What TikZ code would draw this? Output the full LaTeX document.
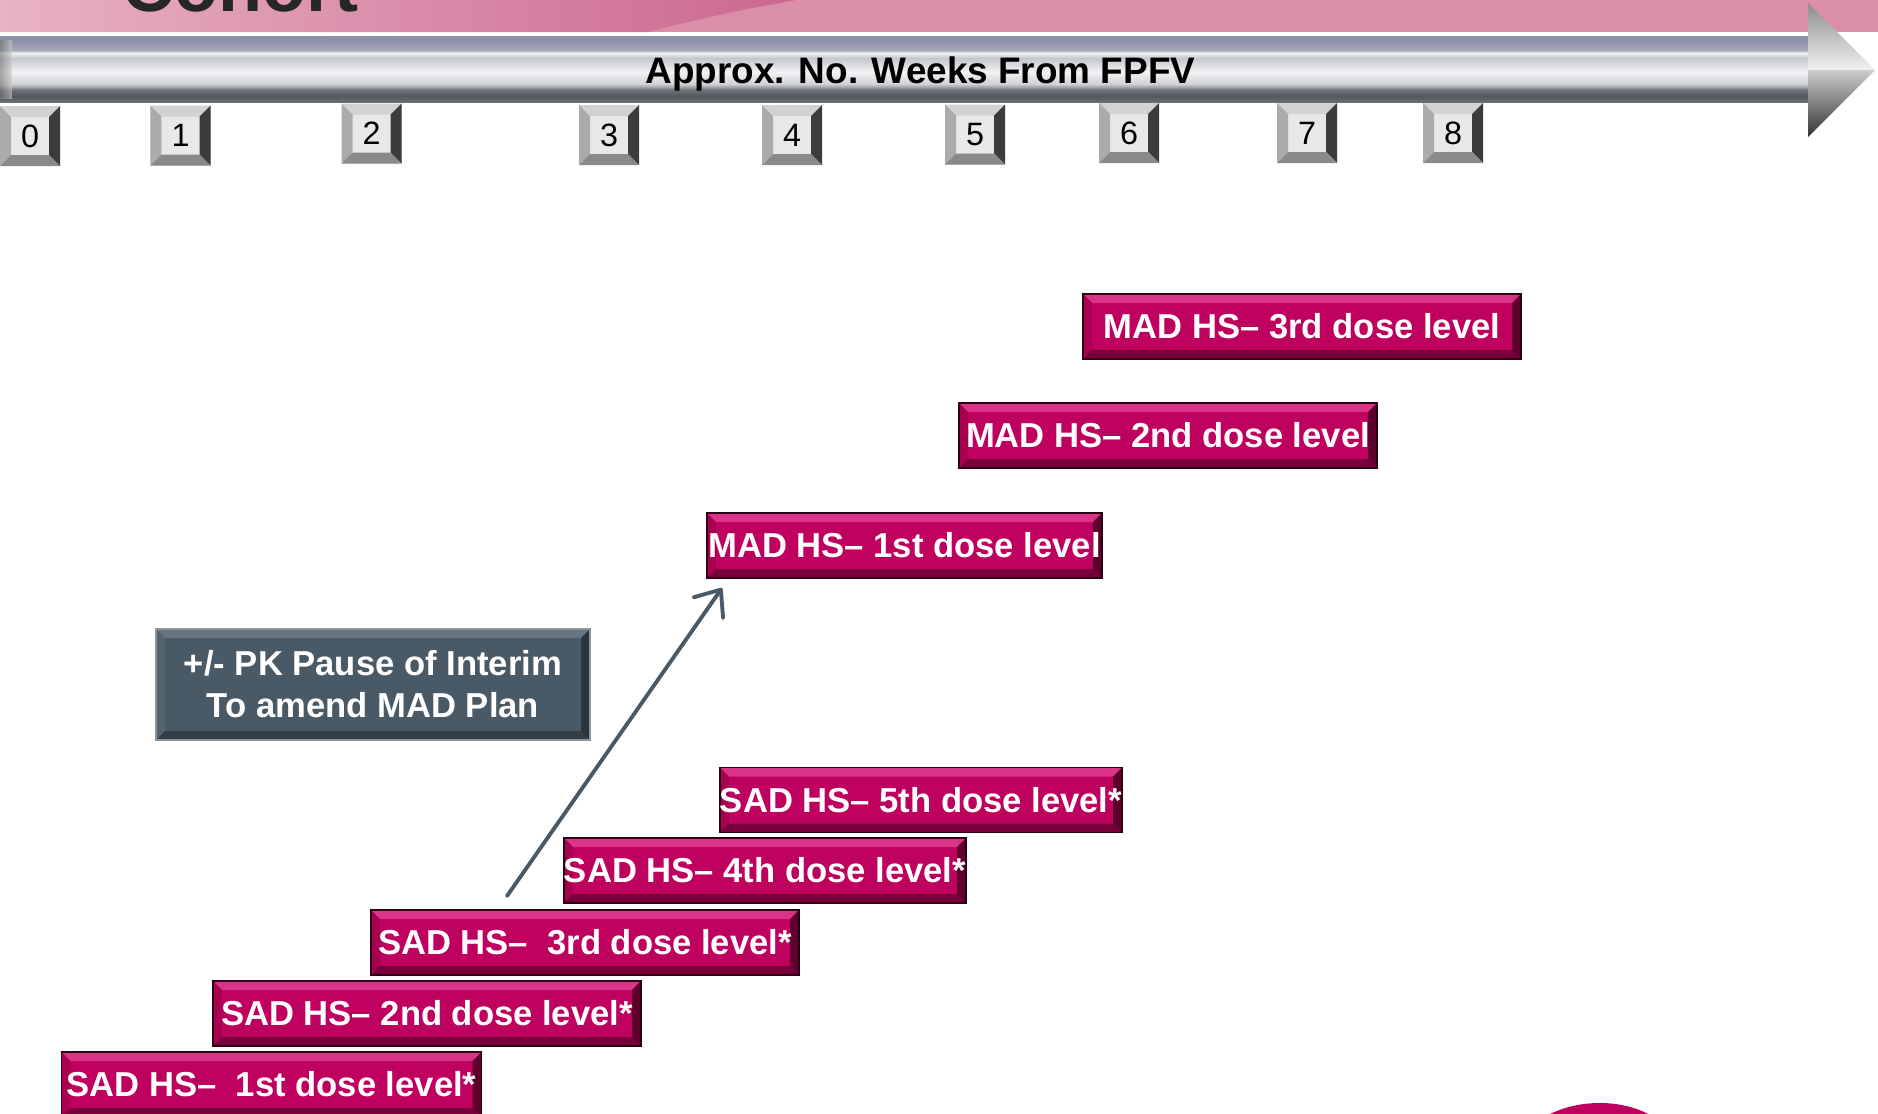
\documentclass[tikz,border=0pt]{standalone}
\usepackage{fontspec}
\setmainfont{Liberation Sans}
\usetikzlibrary{positioning,arrows.meta,calc}

\definecolor{doseface}{HTML}{BE005F}
\definecolor{dosetop}{HTML}{DA3489}
\definecolor{doseleft}{HTML}{A6004F}
\definecolor{doseright}{HTML}{5E002C}
\definecolor{dosebot}{HTML}{78003A}
\definecolor{doseline}{HTML}{2B0014}
\definecolor{pauseface}{HTML}{4A5966}
\definecolor{pausetop}{HTML}{66757F}
\definecolor{pauseleft}{HTML}{55646E}
\definecolor{pauseright}{HTML}{2A343C}
\definecolor{pausebot}{HTML}{333E47}
\definecolor{pauseline}{HTML}{8C959C}
\definecolor{weekface}{HTML}{E8E8E8}
\definecolor{weektop}{HTML}{D2D2D2}
\definecolor{weekleft}{HTML}{ABABAB}
\definecolor{weekright}{HTML}{3C3C3C}
\definecolor{weekbot}{HTML}{8A8A8A}
\definecolor{hdrlight}{HTML}{E8B2C4}
\definecolor{hdrdark}{HTML}{CC6890}
\definecolor{hdrmid}{HTML}{DB8EA8}
\definecolor{pkline}{HTML}{4A5966}

\pgfdeclareverticalshading{shaftshade}{100bp}{%
  rgb(0bp)=(0.42,0.43,0.45); rgb(25bp)=(0.42,0.43,0.45);
  rgb(29.5bp)=(0.33,0.35,0.37); rgb(34bp)=(0.43,0.44,0.47);
  rgb(38.6bp)=(0.81,0.82,0.83); rgb(47.7bp)=(0.95,0.95,0.96);
  rgb(58.3bp)=(0.77,0.78,0.80); rgb(62.1bp)=(0.94,0.95,0.96);
  rgb(64.4bp)=(0.64,0.66,0.73); rgb(72bp)=(0.55,0.56,0.65);
  rgb(75bp)=(0.56,0.58,0.66); rgb(100bp)=(0.56,0.58,0.66)}

\tikzset{
  bevel size/.store in=\bevelw, bevel size=0.1,
  bevel/.style n args={4}{path picture={
      \coordinate (bnw) at (path picture bounding box.north west);
      \coordinate (bne) at (path picture bounding box.north east);
      \coordinate (bsw) at (path picture bounding box.south west);
      \coordinate (bse) at (path picture bounding box.south east);
      \fill[#1] (bnw) -- (bne) -- ([shift={(-\bevelw,-\bevelw)}]bne) -- ([shift={(\bevelw,-\bevelw)}]bnw) -- cycle;
      \fill[#2] (bsw) -- (bnw) -- ([shift={(\bevelw,-\bevelw)}]bnw) -- ([shift={(\bevelw,\bevelw)}]bsw) -- cycle;
      \fill[#3] (bne) -- (bse) -- ([shift={(-\bevelw,\bevelw)}]bse) -- ([shift={(-\bevelw,-\bevelw)}]bne) -- cycle;
      \fill[#4] (bsw) -- (bse) -- ([shift={(-\bevelw,\bevelw)}]bse) -- ([shift={(\bevelw,\bevelw)}]bsw) -- cycle;
    }},
  dosebox/.style={rectangle, draw=doseline, line width=0.5pt, fill=doseface,
    bevel={dosetop}{doseleft}{doseright}{dosebot}, bevel size=0.09,
    minimum height=0.65cm, inner sep=0pt, text=white,
    font=\fontsize{9.85}{12}\selectfont\bfseries},
  pausebox/.style={rectangle, draw=pauseline, line width=0.5pt, fill=pauseface,
    bevel={pausetop}{pauseleft}{pauseright}{pausebot}, bevel size=0.09,
    minimum width=4.34cm, minimum height=1.11cm, inner sep=0pt, text=white,
    align=center, font=\fontsize{9.85}{12}\selectfont\bfseries},
  weekbox/.style={rectangle, fill=weekface,
    bevel={weektop}{weekleft}{weekright}{weekbot}, bevel size=0.11,
    minimum width=0.6cm, minimum height=0.6cm, inner sep=0pt,
    font=\fontsize{9.2}{11}\selectfont},
  pkarrow/.style={draw=pkline, line width=1.1pt, line cap=round,
    -{Straight Barb[round, length=2.2mm, width=3.6mm]}},
}

\begin{document}
\begin{tikzpicture}
  \useasboundingbox (0,0) rectangle (18.78,-11.14);
  \clip (0,0) rectangle (18.78,-11.14);

  % header band
  \fill[hdrmid] (0,0) rectangle (18.78,-0.32);
  \shade[left color=hdrlight, right color=hdrdark] (0,0) -- (7.96,0) .. controls (7.3,-0.12) .. (6.47,-0.32) -- (0,-0.32) -- cycle;
  \node[anchor=base west, inner sep=0pt, text=black!85, font=\fontsize{20.5}{24}\selectfont\bfseries] (title) at (1.22,-0.11) {Cohort};

  % time line
  \shade[shading=shaftshade] (0,-0.36) rectangle (18.10,-1.02);
  \shade[left color=black!55, right color=black!20, opacity=0.6] (0,-0.40) rectangle (0.12,-0.98);
  \shade[top color=black!45, bottom color=white!95!black] (18.08,-0.03) -- (18.75,-0.70) -- (18.08,-0.70) -- cycle;
  \shade[top color=black!20, bottom color=black!80] (18.08,-0.70) -- (18.75,-0.70) -- (18.08,-1.37) -- cycle;
  \node[anchor=base, inner sep=0pt, font=\fontsize{10.5}{12}\selectfont\bfseries] (axis) at (9.205,-0.83) {Approx. No. Weeks From FPFV};

  \foreach \wk/\wx/\wy in {0/0.30/-1.36, 1/1.805/-1.355, 2/3.715/-1.335, 3/6.09/-1.35, 4/7.92/-1.35,
                           5/9.75/-1.345, 6/11.29/-1.33, 7/13.07/-1.33, 8/14.53/-1.33}
    \node[weekbox] (wk\wk) at (\wx,\wy) {\wk};

  % MAD cohorts
  \node[dosebox, minimum width=4.38cm] (mad3) at (13.02,-3.265) {MAD HS– 3rd dose level};
  \node[dosebox, minimum width=4.18cm] (mad2) at (11.68,-4.355) {MAD HS– 2nd dose level};
  \node[dosebox, minimum width=3.95cm] (mad1) at (9.045,-5.455) {MAD HS– 1st dose level};

  % SAD cohorts
  \node[dosebox, minimum width=4.00cm] (sad5) at (9.21,-8.00) {SAD HS– 5th dose level*};
  \node[dosebox, minimum width=4.00cm] (sad4) at (7.65,-8.705) {SAD HS– 4th dose level*};
  \node[dosebox, minimum width=4.28cm] (sad3) at (5.85,-9.425) {SAD HS–\ \ 3rd dose level*};
  \node[dosebox, minimum width=4.28cm] (sad2) at (4.27,-10.135) {SAD HS– 2nd dose level*};
  \node[dosebox, minimum width=4.20cm] (sad1) at (2.715,-10.845) {SAD HS–\ \ 1st dose level*};

  \node[pausebox] (pause) at (3.73,-6.845) {+/- PK Pause of Interim\\To amend MAD Plan};

  \coordinate (pkfrom) at (5.07,-8.96);
  \coordinate (pkto) at (7.22,-5.88);
  \draw[pkarrow] (pkfrom) -- (pkto);

  % corner of the next shape
  \fill[doseface] (15.43,-11.18) .. controls (15.75,-10.98) and (16.25,-10.98) .. (16.55,-11.18) -- cycle;
\end{tikzpicture}
\end{document}
